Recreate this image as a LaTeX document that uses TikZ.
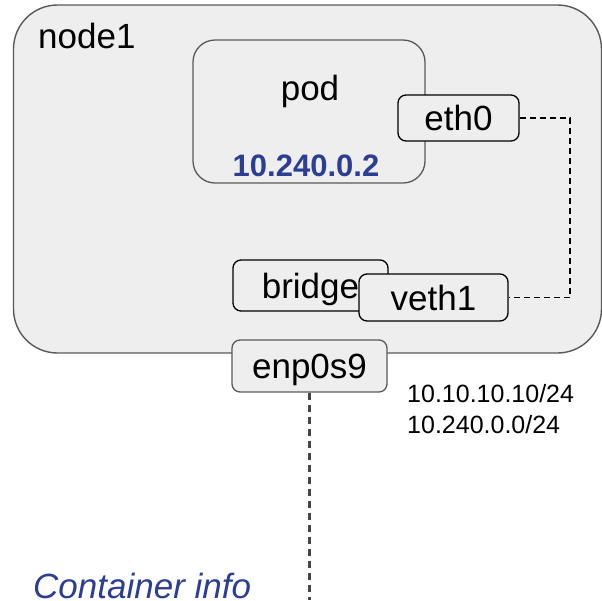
\documentclass[tikz,border=0pt]{standalone}
\usepackage{fontspec}
\setmainfont{Liberation Sans}
\definecolor{boxfill}{HTML}{EEEEEE}
\definecolor{boxline}{HTML}{595959}
\definecolor{ipblue}{HTML}{2C3E91}
\definecolor{wire}{HTML}{444444}
\begin{document}
\begin{tikzpicture}[x=1pt,y=-1pt,
  hostbox/.style={draw=boxline, fill=boxfill, line width=1.4pt, rounded corners=44pt, inner sep=0pt},
  podbox/.style={draw=boxline, fill=boxfill, line width=1.3pt, rounded corners=22pt, inner sep=0pt},
  ifbox/.style={draw=black, fill=boxfill, line width=1.3pt, rounded corners=8pt, inner sep=0pt,
    text height=25pt, text depth=0pt, font=\fontsize{35}{40}\selectfont},
  biglabel/.style={font=\fontsize{35}{40}\selectfont, anchor=base, inner sep=0pt},
  link/.style={draw=black, line width=1.5pt, dash pattern=on 6pt off 4pt},
  uplink/.style={draw=wire, line width=2.2pt, dash pattern=on 7pt off 5pt}]
\useasboundingbox (0,0) rectangle (602,600);

% host machine
\node[hostbox, minimum width=588pt, minimum height=348pt] (host) at (307.5,179) {};
\node[biglabel, anchor=base west] (hostname) at (38,48) {node1};

% pod with its interface
\node[podbox, minimum width=232pt, minimum height=143pt] (pod) at (309,111.5) {};
\node[biglabel] (podname) at (310,100) {pod};
\node[anchor=base, inner sep=0pt, text=ipblue, font=\fontsize{31}{36}\selectfont\bfseries] (podip) at (306,176) {10.240.0.2};
\node[ifbox, minimum width=121pt, minimum height=46pt] (eth0) at (458.5,118) {eth0};

% bridge and veth pair end
\node[ifbox, minimum width=155pt, minimum height=51pt] (bridge) at (310.5,285.5) {bridge};
\node[ifbox, minimum width=149pt, minimum height=47pt] (veth1) at (433.5,297.5) {veth1};

% veth pair link
\coordinate (bend) at (570,0);
\draw[link] (eth0.east) -- (eth0.east -| bend) -- (bend |- veth1.east) -- (veth1.east);

% host NIC
\node[ifbox, draw=boxline, minimum width=155pt, minimum height=52pt] (enp) at (309.5,366) {enp0s9};
\coordinate (down) at (310,600);
\draw[uplink] (enp.south) -- (enp.south |- down);

\node[anchor=base west, inner sep=0pt, align=left, font=\fontsize{25}{31}\selectfont] (addrs) at (407,433) {10.10.10.10/24\\10.240.0.0/24};

\node[anchor=base west, inner sep=0pt, text=ipblue, font=\fontsize{35}{40}\selectfont\itshape] (info) at (33,598) {Container info};
\end{tikzpicture}
\end{document}
